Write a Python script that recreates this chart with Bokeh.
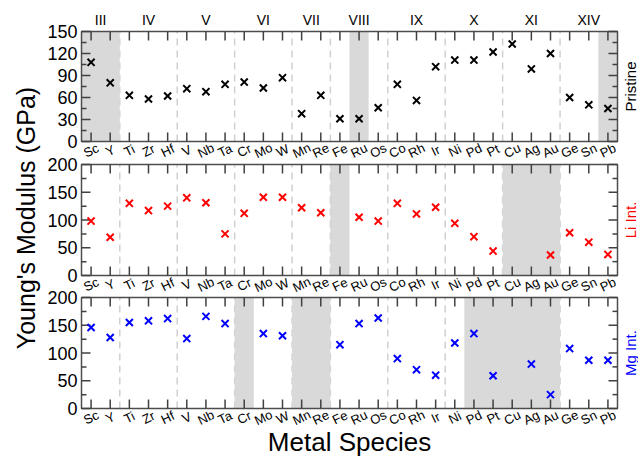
import math
import numpy as np
from bokeh.plotting import figure
from bokeh.models import Range1d, ColumnDataSource
from bokeh.core.properties import value
from bokeh.embed import file_html
from bokeh.resources import INLINE

# ---------------- data ----------------
elements = ["Sc", "Y", "Ti", "Zr", "Hf", "V", "Nb", "Ta", "Cr", "Mo", "W", "Mn", "Re",
            "Fe", "Ru", "Os", "Co", "Rh", "Ir", "Ni", "Pd", "Pt", "Cu", "Ag", "Au",
            "Ge", "Sn", "Pb"]
groups = ["III", "IV", "V", "VI", "VII", "VIII", "IX", "X", "XI", "XIV"]
group_members = [["Sc", "Y"], ["Ti", "Zr", "Hf"], ["V", "Nb", "Ta"], ["Cr", "Mo", "W"],
                 ["Mn", "Re"], ["Fe", "Ru", "Os"], ["Co", "Rh", "Ir"], ["Ni", "Pd", "Pt"],
                 ["Cu", "Ag", "Au"], ["Ge", "Sn", "Pb"]]

pristine = [108, 80, 63, 58, 62, 72, 68, 78, 81, 73, 87, 38, 63,
            31, 31, 46, 78, 56, 102, 111, 111, 122, 133, 99, 120,
            60, 50, 45]
li_int = [98, 69, 130, 117, 125, 140, 131, 75, 112, 141, 141, 122, 113,
          None, 105, 98, 130, 111, 123, 94, 70, 44, None, None, 37,
          77, 60, 38]
mg_int = [146, 128, 155, 158, 162, 126, 166, 153, None, 135, 131, None, None,
          115, 153, 163, 90, 70, 60, 118, 135, 59, None, 80, 25,
          108, 87, 87]

shaded_pristine = ["Sc", "Y", "Ru", "Pb"]
shaded_li = ["Fe", "Cu", "Ag", "Au"]
shaded_mg = ["Cr", "Mn", "Re", "Pd", "Pt", "Cu", "Ag", "Au"]

series_labels = ["Pristine", "Li Int.", "Mg Int."]
series_colors = ["black", "#ff0000", "#0000ff"]
y_maxes = [150, 200, 200]
y_steps = [30, 50, 50]
y_label = "Young's Modulus (GPa)"
x_label = "Metal Species"

# ---------------- layout (pixels) ----------------
WIDTH, HEIGHT = 638, 458
FRAME_L, FRAME_R = 81, 617
BANDS = [(31, 141), (164, 275), (297, 408)]   # (top, bottom) of each panel
FONT = value("Liberation Sans")
AX = "#4d4d4d"
TICK = "#404040"
SHADE = "#d9d9d9"
DASH = "#d0d0d0"

nx = len(elements)
pos = {e: i for i, e in enumerate(elements)}
xs = list(range(nx))
group_centers = [float(np.mean([pos[m] for m in g])) for g in group_members]
boundaries = [pos[g[-1]] + 0.5 for g in group_members[:-1]]
xL, xR = -0.5, nx - 0.5
xpp = (xR - xL) / (FRAME_R - FRAME_L)          # x data units per pixel


def band_range(top, bot, ymax):
    yb, yt = HEIGHT - bot, HEIGHT - top
    span = ymax * HEIGHT / (yt - yb)
    s = -span * yb / HEIGHT
    return Range1d(s, s + span)


def runs(names):
    idx = sorted(pos[n] for n in names)
    out = []
    for i in idx:
        if out and out[-1][1] == i - 1:
            out[-1][1] = i
        else:
            out.append([i, i])
    return out


ranges = [band_range(t, b, m) for (t, b), m in zip(BANDS, y_maxes)]
p = figure(width=WIDTH, height=HEIGHT,
           x_range=Range1d(xL - FRAME_L * xpp, xR + (WIDTH - FRAME_R) * xpp),
           y_range=ranges[0], x_axis_type=None, y_axis_type=None,
           toolbar_location=None, output_backend="svg", min_border=0)
p.extra_y_ranges = {"p2": ranges[1], "p3": ranges[2]}
p.outline_line_color = None
p.background_fill_color = "white"
p.border_fill_color = "white"

range_names = ["default", "p2", "p3"]
series = [pristine, li_int, mg_int]
shaded = [shaded_pristine, shaded_li, shaded_mg]

for k in range(3):
    rn = range_names[k]
    ymax = y_maxes[k]
    top, bot = BANDS[k]
    ypp = ymax / (bot - top)
    color = series_colors[k]
    txt = dict(text_font=FONT, y_range_name=rn)

    # dashed group separators
    nb = len(boundaries)
    p.segment(x0=boundaries, x1=boundaries, y0=[0] * nb, y1=[ymax] * nb,
              line_color=DASH, line_dash="7 5", line_width=1.5, y_range_name=rn)
    # shaded species
    r = runs(shaded[k])
    p.quad(left=[a - 0.5 for a, _ in r], right=[b + 0.5 for _, b in r],
           bottom=[0] * len(r), top=[ymax] * len(r),
           fill_color=SHADE, line_color=None, y_range_name=rn)
    # frame
    p.quad(left=[xL], right=[xR], bottom=[0], top=[ymax], fill_color=None,
           line_color=AX, line_width=1.5, y_range_name=rn)

    # inward ticks
    majors = list(range(0, ymax + 1, y_steps[k]))
    minors = [m + y_steps[k] / 2 for m in majors[:-1]]
    tk = dict(line_color=TICK, line_width=1.5, line_dash="solid", y_range_name=rn)
    p.segment(x0=xs, x1=xs, y0=[ymax] * nx, y1=[ymax - 9 * ypp] * nx, **tk)
    p.segment(x0=xs, x1=xs, y0=[0] * nx, y1=[9 * ypp] * nx, **tk)
    for vals, ln in ((majors, 9), (minors, 5)):
        n = len(vals)
        p.segment(x0=[xL] * n, x1=[xL + ln * xpp] * n, y0=vals, y1=vals, **tk)
        p.segment(x0=[xR] * n, x1=[xR - ln * xpp] * n, y0=vals, y1=vals, **tk)

    # data
    yv = [np.nan if v is None else v for v in series[k]]
    src = ColumnDataSource(dict(x=xs, y=yv))
    p.scatter(x="x", y="y", source=src, marker="x", size=10, line_width=2,
              line_color=color, y_range_name=rn)

    # y tick labels
    p.text(x=[xL - 4 * xpp] * len(majors), y=majors, text=[str(m) for m in majors],
           text_align="right", text_baseline="middle", text_font_size="18px",
           text_color="black", **txt)
    # species labels
    p.text(x=xs, y=[-9 * ypp] * nx, text=elements, angle=0.45,
           text_align="center", text_baseline="middle", text_font_size="13px",
           text_color="black", **txt)
    # side label
    p.text(x=[xR + 13 * xpp], y=[ymax / 2], text=[series_labels[k]], angle=math.pi / 2,
           text_align="center", text_baseline="middle", text_font_size="15px",
           text_color=color, **txt)

    if k == 0:
        p.text(x=group_centers, y=[ymax + 12 * ypp] * len(groups), text=groups,
               text_align="center", text_baseline="middle", text_font_size="14px",
               text_color="black", **txt)
    if k == 1:
        p.text(x=[xL - 56 * xpp], y=[ymax / 2 + 2 * ypp], text=[y_label], angle=math.pi / 2,
               text_align="center", text_baseline="middle", text_font_size="25px",
               text_color="black", **txt)
    if k == 2:
        p.text(x=[(xL + xR) / 2], y=[-33 * ypp], text=[x_label],
               text_align="center", text_baseline="middle", text_font_size="26px",
               text_color="black", **txt)

with open("out.html", "w") as f:
    f.write(file_html(p, INLINE))
